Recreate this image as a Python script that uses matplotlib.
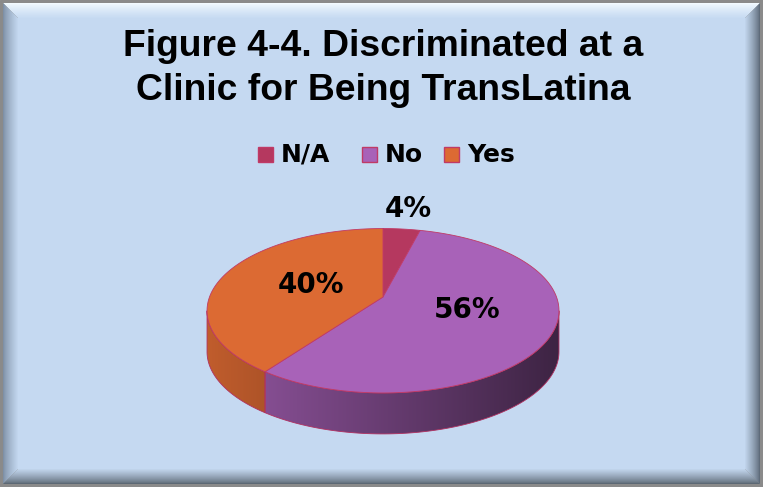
import numpy as np
import matplotlib
matplotlib.use("Agg")
from matplotlib import pyplot as plt
from matplotlib.patches import Polygon, Rectangle
from matplotlib.colors import to_rgb

# data
labels = ["N/A", "No", "Yes"]
values = [4, 56, 40]
colors = ["#B5385F", "#A862B8", "#DC6A33"]
title_lines = ["Figure 4-4. Discriminated at a", "Clinic for Being TransLatina"]

W, H = 763, 487
bg = to_rgb("#C5D9F1")

fig = plt.figure(figsize=(W / 100, H / 100), dpi=100)
ax = fig.add_axes([0, 0, 1, 1])
ax.set_xlim(0, W)
ax.set_ylim(H, 0)
ax.set_axis_off()

# frame with bevel
ax.add_patch(Rectangle((0, 0), W, H, color="#8A8A8A", zorder=0))
o = 3
bw = 15
def mix(c1, c2, f):
    c1, c2 = np.array(to_rgb(c1)), np.array(c2)
    return tuple(c1 * (1 - f) + c2 * f)
side_cols = {"top": "#F2FAFF", "left": "#7E90A6", "right": "#5E6B7A", "bottom": "#5C6874"}
for k in range(bw):
    f = (k / bw) ** 0.8
    a, b = o + k, o + k + 1
    x0, x1, y0, y1 = a, W - a, a, H - a
    ix0, ix1, iy0, iy1 = b, W - b, b, H - b
    ax.add_patch(Polygon([(x0, y0), (x1, y0), (ix1, iy0), (ix0, iy0)], closed=True, lw=0, color=mix(side_cols["top"], bg, f), zorder=1))
    ax.add_patch(Polygon([(x0, y0), (ix0, iy0), (ix0, iy1), (x0, y1)], closed=True, lw=0, color=mix(side_cols["left"], bg, f), zorder=1))
    ax.add_patch(Polygon([(x1, y0), (x1, y1), (ix1, iy1), (ix1, iy0)], closed=True, lw=0, color=mix(side_cols["right"], bg, f), zorder=1))
    ax.add_patch(Polygon([(x0, y1), (x1, y1), (ix1, iy1), (ix0, iy1)], closed=True, lw=0, color=mix(side_cols["bottom"], bg, f), zorder=1))
ax.add_patch(Rectangle((o + bw, o + bw), W - 2 * (o + bw), H - 2 * (o + bw), color=bg, lw=0, zorder=1))

# title
for ty, line in zip([56, 100], title_lines):
    ax.text(383, ty, line, ha="center", va="baseline", fontsize=26.8, fontweight="bold",
            family="Liberation Sans", zorder=5)

# legend
leg_x = [258, 362, 444]
for lx, lab, col in zip(leg_x, labels, colors):
    ax.add_patch(Rectangle((lx, 147), 15, 15, facecolor=col, edgecolor="#C03A66", lw=1, zorder=5))
    ax.text(lx + 23, 155, lab, ha="left", va="center", fontsize=18, fontweight="bold",
            family="DejaVu Sans", zorder=5)

# 3D pie with a little perspective
vx, vy = 383, 297       # projected pie centre
R, s, kp = 173.5, 79.9, 0.167
depth = 41

def pt(t):
    t = np.radians(t)
    d = 1 + kp * np.sin(t)
    return vx + R * np.cos(t) / d, vy - s * np.sin(t) / d

frac = np.array(values) / sum(values)
cum = np.concatenate([[0], np.cumsum(frac)])
starts = 90 - 360 * cum[:-1]
ends = 90 - 360 * cum[1:]

xs = np.arange(W)
edge_a = np.degrees(np.arcsin(kp))
vis_lo, vis_hi = -180 + edge_a, -edge_a
# side walls
for s0, e0, col in zip(starts, ends, colors):
    lo, hi = min(s0, e0), max(s0, e0)
    for off in (0, -360, 360):
        a0, a1 = max(lo + off, vis_lo), min(hi + off, vis_hi)
        if a1 <= a0:
            continue
        ts = np.linspace(a0, a1, 100)
        top = [pt(t) for t in ts]
        bot = [(x, y + depth) for x, y in top[::-1]]
        poly = Polygon(top + bot, closed=True, facecolor="none", edgecolor="#B03060", lw=0.6, zorder=3)
        ax.add_patch(poly)
        fac = np.clip(0.87 - (xs - 210) * 0.00145, 0.3, 1.0)
        grad = np.array(to_rgb(col))[None, None, :] * fac[None, :, None]
        im = ax.imshow(grad, extent=(0, W, H, 0), aspect="auto", zorder=2.9, interpolation="bilinear")
        im.set_clip_path(poly)
ax.set_xlim(0, W)
ax.set_ylim(H, 0)

# top faces
for s0, e0, col in zip(starts, ends, colors):
    ts = np.linspace(s0, e0, 200)
    arc = [pt(t) for t in ts]
    ax.add_patch(Polygon([(vx, vy)] + arc, closed=True, facecolor=col, edgecolor="#C03A66",
                         lw=0.6, zorder=4))

# percentage labels
lab_pos = [(408, 209), (467, 310), (311, 285)]
for (lx, ly), v in zip(lab_pos, values):
    ax.text(lx, ly, f"{v}%", ha="center", va="center", fontsize=20, fontweight="bold",
            family="DejaVu Sans", zorder=6)

fig.savefig("out.png", dpi=100)
